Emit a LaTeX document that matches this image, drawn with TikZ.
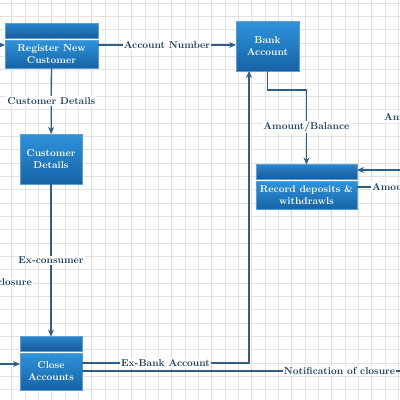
\documentclass[tikz,border=0pt]{standalone}
\usetikzlibrary{positioning,arrows.meta}
\definecolor{boxtop}{HTML}{2E93DB}
\definecolor{boxbot}{HTML}{1663A6}
\definecolor{headtop}{HTML}{2784CC}
\definecolor{headbot}{HTML}{185A98}
\definecolor{boxline}{HTML}{5C9ED6}
\definecolor{flowcol}{HTML}{2F5F86}
\definecolor{lblcol}{HTML}{203F5F}
\definecolor{gridcol}{HTML}{E2E2E2}
\tikzset{
  proc/.style={draw=boxline, line width=0.6pt, top color=boxtop, bottom color=boxbot,
    text=white, font=\bfseries, align=center, inner sep=2pt, outer sep=0pt},
  prochead/.style={draw=boxline, line width=0.6pt, top color=headtop, bottom color=headbot,
    minimum height=15, inner sep=0pt, outer sep=0pt},
  flow/.style={draw=flowcol, line width=1.3pt, -{Stealth[length=7pt,width=6pt]}},
  link/.style={draw=flowcol, line width=1.3pt},
  lbl/.style={fill=white, text=lblcol, font=\bfseries, inner sep=1pt},
  gridline/.style={draw=gridcol, line width=0.5pt}
}
\begin{document}
\begin{tikzpicture}[x=1pt,y=-1pt]
  \useasboundingbox (0,0) rectangle (400,400);
  \fill[white] (0,0) rectangle (400,400);
  % grid
  \foreach \i in {0,...,30} {
    \draw[gridline] ({11.7+13.333*\i},0) -- ({11.7+13.333*\i},400);
    \draw[gridline] (0,{3+13.333*\i}) -- (400,{3+13.333*\i});
  }
  % processes
  \node[proc, minimum width=93, minimum height=28] (reg) at (51.5,54) {Register New\\Customer};
  \node[prochead, minimum width=93, above=1.5pt of reg] (reghead) {};
  \node[proc, minimum width=63, minimum height=50] (bank) at (267.5,46) {Bank\\Account};
  \node[proc, minimum width=62, minimum height=50] (cust) at (51,159) {Customer\\Details};
  \node[proc, minimum width=101, minimum height=28] (rec) at (306.5,195) {Record deposits \&\\withdrawls};
  \node[prochead, minimum width=101, above=1.5pt of rec] (rechead) {};
  \node[proc, minimum width=62, minimum height=37] (close) at (51,371.5) {Close\\Accounts};
  \node[prochead, minimum width=62, above=1.5pt of close] (closehead) {};
  % free ends
  \coordinate (inreg) at (0,45);
  \coordinate (inclose) at (0,364);
  \coordinate (inrec) at (400,170);
  \coordinate (outclose) at (400,371);
  % flows
  \draw[flow] (inreg) -- (inreg -| reg.west);
  \draw[flow] (reg.east |- inreg) -- node[lbl]{Account Number} (bank.west |- inreg);
  \draw[flow] (reg) -- node[lbl]{Customer Details} (cust);
  \draw[flow] (cust) -- node[lbl]{Ex-consumer} (closehead);
  \draw[flow] (bank.south) -- ++(0,19) -| node[lbl, pos=0.75]{Amount/Balance} (rechead.north);
  \draw[flow] (inrec) -- (inrec -| rechead.east);
  \draw[flow] (inclose) -- (inclose -| close.west);
  \draw[flow] ([yshift=8.5pt]close.east) -| node[lbl, pos=0.25]{Ex-Bank Account} ([xshift=-18.5pt]bank.south);
  \draw[link] (close.east |- outclose) -- node[lbl, pos=0.81]{Notification of closure} (outclose);
  \node[lbl, anchor=west] (amtout) at (371,187) {Amount};
  \draw[link] (amtout.west -| rec.east) -- (amtout.west);
  \node[lbl, anchor=west] (amtin) at (383,117) {Amount};
  \node[lbl, anchor=east] (clos) at (33,282) {closure};
\end{tikzpicture}
\end{document}
